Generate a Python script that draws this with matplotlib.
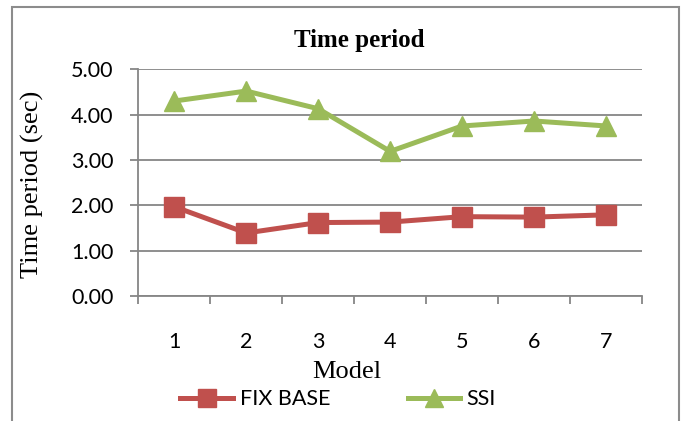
import matplotlib
matplotlib.use('Agg')
import matplotlib.pyplot as plt
from matplotlib.lines import Line2D
from matplotlib.patches import Rectangle
from matplotlib.ticker import FormatStrFormatter

# time period of each model, fixed base vs soil-structure interaction
models = ['1', '2', '3', '4', '5', '6', '7']
fix_base = [1.97, 1.39, 1.62, 1.63, 1.75, 1.74, 1.79]
ssi = [4.30, 4.52, 4.13, 3.19, 3.75, 3.86, 3.75]

red = '#C0504D'
green = '#9BBB59'
grid_col = '#868686'
sans = ['Lato', 'DejaVu Sans']
serif = ['Liberation Serif', 'DejaVu Serif']

fig = plt.figure(figsize=(6.86, 4.21), dpi=100)
ax = fig.add_axes([0.2016, 0.2969, 0.7343, 0.5385])

x = list(range(1, len(models) + 1))
ax.plot(x, fix_base, color=red, lw=3.6, marker='s', ms=14, mec=red, zorder=3)
ax.plot(x, ssi, color=green, lw=3.6, marker='^', ms=14, mec=green, zorder=3)

ax.set_xlim(0.5, len(models) + 0.5)
ax.set_ylim(0, 5)
ax.set_yticks([0, 1, 2, 3, 4, 5])
ax.yaxis.set_major_formatter(FormatStrFormatter('%.2f'))
ax.yaxis.grid(True, color=grid_col, lw=1.3)
ax.set_axisbelow(True)

# category boundaries get the tick marks, labels sit in the middle
ax.set_xticks([i + 0.5 for i in range(len(models) + 1)])
ax.set_xticklabels([])
ax.set_xticks(x, minor=True)
ax.set_xticklabels(models, minor=True)
ax.tick_params(axis='x', which='major', length=6, width=1.3, color=grid_col, direction='out')
ax.tick_params(axis='x', which='minor', length=0, pad=26, labelsize=15.5)
ax.tick_params(axis='y', length=6, width=1.3, color=grid_col, pad=12, labelsize=15.5)
for lab in ax.get_xticklabels(minor=True) + ax.get_yticklabels():
    lab.set_family(sans)

for s in ['top', 'right']:
    ax.spines[s].set_visible(False)
for s in ['left', 'bottom']:
    ax.spines[s].set_color(grid_col)
    ax.spines[s].set_linewidth(1.3)

fig.text(0.523, 0.889, 'Time period', ha='center', va='baseline',
         fontsize=18, fontweight='bold', family=serif)
fig.text(0.505, 0.102, 'Model', ha='center', va='baseline', fontsize=19, family=serif)
fig.text(0.048, 0.563, 'Time period (sec)', ha='center', va='center',
         rotation=90, fontsize=19, family=serif)

handles = [Line2D([], [], color=red, lw=3.6, marker='s', ms=13, mec=red),
           Line2D([], [], color=green, lw=3.6, marker='^', ms=13, mec=green)]
fig.legend(handles, ['FIX BASE', 'SSI'], loc='center', bbox_to_anchor=(0.493, 0.052),
           ncol=2, frameon=False, handlelength=2.45, handletextpad=0.3,
           columnspacing=3.6, borderpad=0, prop={'family': sans, 'size': 15.5})

# chart border
fig.patches.append(Rectangle((12 / 686, -0.05), 667 / 686, 1.05 - 7.5 / 421,
                             transform=fig.transFigure, fill=False,
                             edgecolor='#8c8c8c', lw=1.5))

fig.savefig('out.png', dpi=100)
